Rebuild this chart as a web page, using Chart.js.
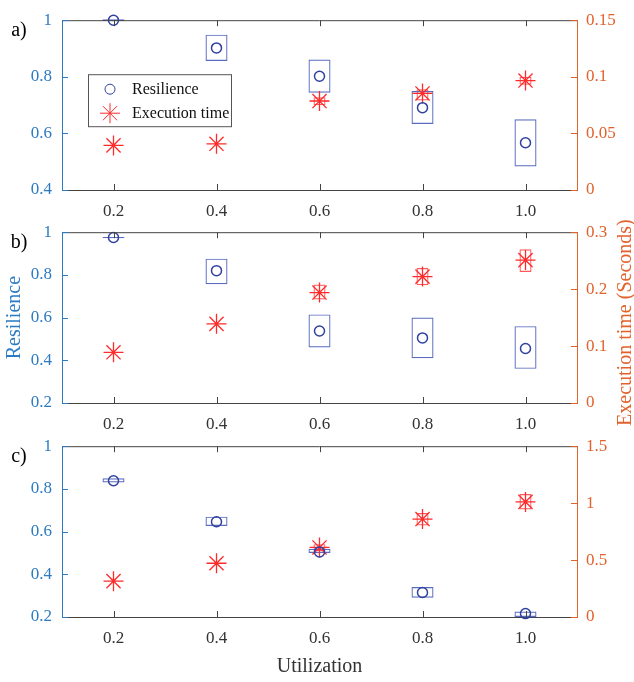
<!DOCTYPE html>
<html>
<head>
<meta charset="utf-8">
<script src="https://cdn.jsdelivr.net/npm/chart.js@4/dist/chart.umd.min.js"></script>
<style>
  body { margin: 0; background: #fff; }
  #wrap { position: relative; width: 634px; height: 682px; }
  canvas { position: absolute; left: 0; }
</style>
</head>
<body>
<div id="wrap">
  <canvas id="panelA" width="634" height="230" style="top:0"></canvas>
  <canvas id="panelB" width="634" height="230" style="top:212px"></canvas>
  <canvas id="panelC" width="634" height="256" style="top:426px"></canvas>
</div>
<script>
// utilization levels (x axis)
const utilization = [0.2, 0.4, 0.6, 0.8, 1.0];
const xTicks = [0.2, 0.4, 0.6, 0.8, 1.0];

// panel a
const resilienceA = [1.0, 0.902, 0.802, 0.691, 0.567];
const resilienceLowA = [0.997, 0.856, 0.744, 0.633, 0.483];
const resilienceHighA = [1.003, 0.949, 0.861, 0.750, 0.650];
const execA = [0.0394, 0.0408, 0.0786, 0.0853, 0.0967];
const execLowA = [0.0394, 0.0408, 0.0750, 0.0790, 0.0930];
const execHighA = [0.0394, 0.0408, 0.0820, 0.0890, 0.1000];

// panel b
const resilienceB = [0.975, 0.820, 0.537, 0.505, 0.455];
const resilienceLowB = [0.972, 0.756, 0.460, 0.410, 0.360];
const resilienceHighB = [0.978, 0.876, 0.615, 0.600, 0.560];
const execB = [0.089, 0.139, 0.194, 0.222, 0.251];
const execLowB = [0.089, 0.139, 0.182, 0.207, 0.230];
const execHighB = [0.089, 0.139, 0.208, 0.237, 0.270];

// panel c
const resilienceC = [0.838, 0.646, 0.505, 0.315, 0.216];
const resilienceLowC = [0.830, 0.626, 0.500, 0.290, 0.200];
const resilienceHighC = [0.850, 0.670, 0.520, 0.340, 0.226];
const execC = [0.315, 0.472, 0.611, 0.860, 1.011];
const execLowC = [0.315, 0.472, 0.580, 0.804, 0.945];
const execHighC = [0.315, 0.472, 0.640, 0.914, 1.080];

const leftColor = "#2b7bc4";
const rightColor = "#e2622c";
const circleColor = "#3040a0";
const boxColor = "#5b6cc0";
const starColor = "#ff2a2a";
const starBoxColor = "#ff5a5a";
const serif = "'Liberation Serif', 'Times New Roman', serif";

Chart.defaults.font.family = serif;

const fmt = (v) => String(Math.round(v * 1000) / 1000);

// MATLAB-style ticks pointing inward, plus the top box edge and panel tag
const frame = {
  id: "frame",
  afterDraw(chart, args, opts) {
    const { ctx, chartArea: a, scales } = chart;
    ctx.save();
    ctx.lineWidth = 1;
    ctx.strokeStyle = "#444";
    ctx.beginPath();
    ctx.moveTo(a.left, a.top + 0.5);
    ctx.lineTo(a.right, a.top + 0.5);
    scales.x.ticks.forEach((t) => {
      const px = Math.round(scales.x.getPixelForValue(t.value)) + 0.5;
      ctx.moveTo(px, a.bottom);
      ctx.lineTo(px, a.bottom - 6);
      ctx.moveTo(px, a.top);
      ctx.lineTo(px, a.top + 6);
    });
    ctx.stroke();

    ctx.strokeStyle = leftColor;
    ctx.beginPath();
    scales.y.ticks.forEach((t) => {
      const py = Math.round(scales.y.getPixelForValue(t.value)) + 0.5;
      ctx.moveTo(a.left, py);
      ctx.lineTo(a.left + 6, py);
    });
    ctx.stroke();

    ctx.strokeStyle = rightColor;
    ctx.beginPath();
    scales.y1.ticks.forEach((t) => {
      const py = Math.round(scales.y1.getPixelForValue(t.value)) + 0.5;
      ctx.moveTo(a.right, py);
      ctx.lineTo(a.right - 6, py);
    });
    ctx.stroke();

    ctx.fillStyle = "#000";
    ctx.font = "20px " + serif;
    ctx.textAlign = "center";
    ctx.textBaseline = "middle";
    ctx.fillText(opts.tag, 19, a.top + 11);

    if (opts.rightTitle) {
      ctx.translate(626, (a.top + a.bottom) / 2 + 5);
      ctx.rotate(-Math.PI / 2);
      ctx.fillStyle = rightColor;
      ctx.fillText(opts.rightTitle, 0, 0);
    }
    ctx.restore();
  },
};

const boxLegend = {
  id: "boxLegend",
  afterDraw(chart, args, opts) {
    if (!opts.show) return;
    const { ctx, chartArea: a } = chart;
    const x0 = a.left + 26, y0 = a.top + 54, w = 143, h = 52;
    const sets = chart.data.datasets;
    ctx.save();
    ctx.fillStyle = "#fff";
    ctx.fillRect(x0, y0, w, h);
    ctx.strokeStyle = "#555";
    ctx.lineWidth = 1;
    ctx.strokeRect(x0 + 0.5, y0 + 0.5, w, h);

    ctx.strokeStyle = circleColor;
    ctx.fillStyle = "rgba(0,0,0,0)";
    Chart.helpers.drawPoint(ctx, { pointStyle: "circle", radius: 5, borderWidth: 1.5 }, x0 + 22, y0 + 15);
    ctx.strokeStyle = starColor;
    Chart.helpers.drawPoint(ctx, { pointStyle: "star", radius: 10, borderWidth: 1.3 }, x0 + 22, y0 + 39);

    ctx.fillStyle = "#111";
    ctx.font = "16px " + serif;
    ctx.textAlign = "left";
    ctx.textBaseline = "middle";
    ctx.fillText(sets[0].label, x0 + 44, y0 + 16);
    ctx.fillText(sets[1].label, x0 + 44, y0 + 40);
    ctx.restore();
  },
};

function pairs(values) {
  return utilization.map((x, i) => ({ x, y: values[i] }));
}

function ranges(low, high) {
  return utilization.map((x, i) => ({ x, y: [low[i], high[i]] }));
}

function createPanel(canvas, p) {
  return new Chart(canvas, {
    type: "scatter",
    data: {
      datasets: [
        {
          label: "Resilience",
          data: pairs(p.res),
          yAxisID: "y",
          pointStyle: "circle",
          pointRadius: 5,
          borderWidth: 1.5,
          borderColor: circleColor,
          backgroundColor: "rgba(0,0,0,0)",
          clip: false,
          order: 1,
        },
        {
          label: "Execution time",
          data: pairs(p.exec),
          yAxisID: "y1",
          pointStyle: "star",
          pointRadius: 10,
          borderWidth: 1.3,
          borderColor: starColor,
          backgroundColor: starColor,
          clip: false,
          order: 1,
        },
        {
          type: "bar",
          label: "Resilience range",
          data: ranges(p.resLow, p.resHigh),
          yAxisID: "y",
          grouped: false,
          maxBarThickness: 22,
          borderWidth: 1.2,
          borderSkipped: false,
          borderColor: boxColor,
          backgroundColor: "rgba(0,0,0,0)",
          clip: false,
          order: 2,
        },
        {
          type: "bar",
          label: "Execution time range",
          data: ranges(p.execLow, p.execHigh),
          yAxisID: "y1",
          grouped: false,
          maxBarThickness: 12,
          borderWidth: 1.2,
          borderSkipped: false,
          borderColor: starBoxColor,
          backgroundColor: "rgba(0,0,0,0)",
          clip: false,
          order: 2,
        },
      ],
    },
    options: {
      responsive: false,
      animation: false,
      events: [],
      layout: { padding: { top: 10, left: 0, right: 0, bottom: 0 } },
      plugins: {
        legend: { display: false },
        tooltip: { enabled: false },
        frame: { tag: p.tag, rightTitle: p.rightTitle },
        boxLegend: { show: p.legend },
      },
      scales: {
        x: {
          type: "linear",
          position: "bottom",
          min: 0.1,
          max: 1.1,
          offset: false,
          grid: { display: false, drawTicks: false },
          border: { display: true, color: "#444", width: 1 },
          afterBuildTicks: (scale) => {
            scale.ticks = xTicks.map((v) => ({ value: v }));
          },
          afterFit: (scale) => {
            scale.height = p.xHeight;
          },
          ticks: {
            callback: (v) => v.toFixed(1),
            color: "#333",
            font: { size: 17 },
            padding: 11,
            maxRotation: 0,
            autoSkip: false,
          },
          title: {
            display: !!p.xTitle,
            text: p.xTitle || "",
            color: "#333",
            font: { size: 20 },
            padding: { top: 0, bottom: 3 },
          },
        },
        y: {
          position: "left",
          min: p.leftMin,
          max: 1,
          grid: { display: false, drawTicks: false },
          border: { display: true, color: leftColor, width: 1 },
          afterFit: (scale) => {
            scale.width = 62;
          },
          ticks: {
            stepSize: 0.2,
            callback: fmt,
            color: leftColor,
            font: { size: 17 },
            padding: 10,
          },
          title: {
            display: !!p.leftTitle,
            text: p.leftTitle || "",
            color: leftColor,
            font: { size: 20 },
            padding: { top: 3, bottom: 0 },
          },
        },
        y1: {
          position: "right",
          min: 0,
          max: p.rightMax,
          grid: { display: false, drawTicks: false },
          border: { display: true, color: rightColor, width: 1 },
          afterFit: (scale) => {
            scale.width = 57;
          },
          ticks: {
            stepSize: p.rightStep,
            callback: fmt,
            color: rightColor,
            font: { size: 17 },
            padding: 9,
          },
        },
      },
    },
    plugins: [frame, boxLegend],
  });
}

createPanel(document.getElementById("panelA"), {
  tag: "a)",
  res: resilienceA, resLow: resilienceLowA, resHigh: resilienceHighA,
  exec: execA, execLow: execLowA, execHigh: execHighA,
  leftMin: 0.4, rightMax: 0.15, rightStep: 0.05,
  xHeight: 40, legend: true,
});

createPanel(document.getElementById("panelB"), {
  tag: "b)",
  res: resilienceB, resLow: resilienceLowB, resHigh: resilienceHighB,
  exec: execB, execLow: execLowB, execHigh: execHighB,
  leftMin: 0.2, rightMax: 0.3, rightStep: 0.1,
  xHeight: 39, leftTitle: "Resilience", rightTitle: "Execution time (Seconds)",
});

createPanel(document.getElementById("panelC"), {
  tag: "c)",
  res: resilienceC, resLow: resilienceLowC, resHigh: resilienceHighC,
  exec: execC, execLow: execLowC, execHigh: execHighC,
  leftMin: 0.2, rightMax: 1.5, rightStep: 0.5,
  xHeight: 65, xTitle: "Utilization",
});
</script>
</body>
</html>
